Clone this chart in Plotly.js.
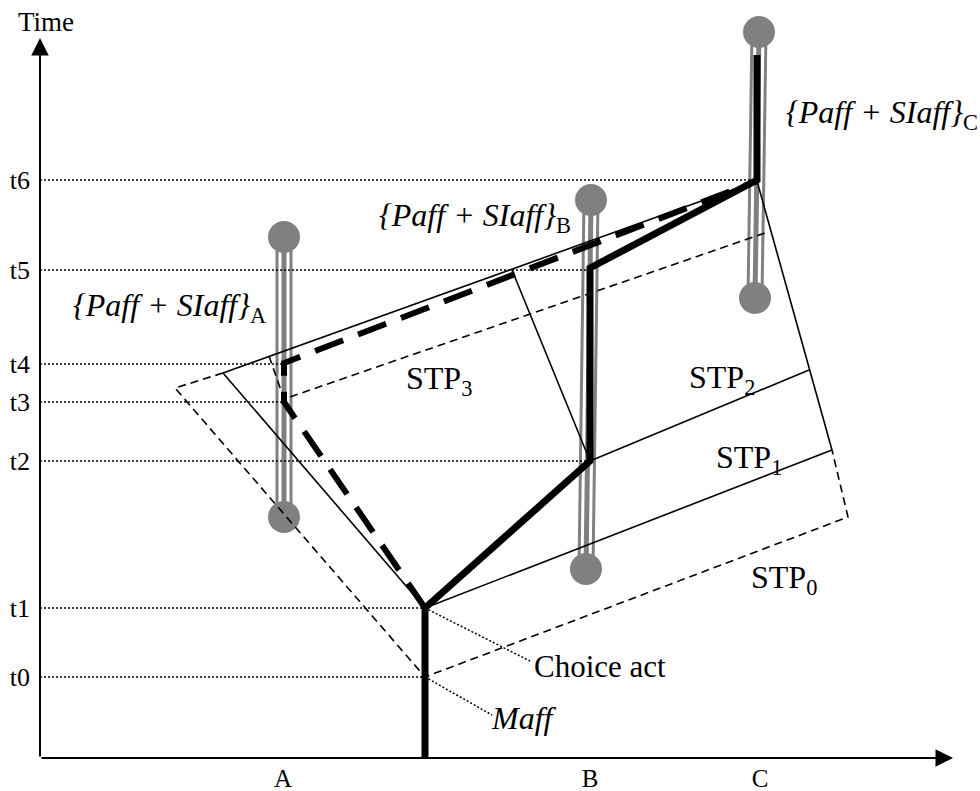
<!DOCTYPE html>
<html><head><meta charset="utf-8">
<script src="https://cdn.plot.ly/plotly-3.0.1.min.js"></script>
<style>html,body{margin:0;padding:0;background:#fff}</style>
</head><body><div id="chart" style="width:980px;height:791px"></div>
<script>
// Time levels (vertical positions) and option positions (horizontal)
const timeLabels = ['t0','t1','t2','t3','t4','t5','t6'];
const timeVals   = [677, 608, 461, 402, 364, 270, 180];
const guideEndX  = [425, 425, 590, 284, 284, 590, 757];
const optionLabels = ['A','B','C'];
const optionVals   = [283, 590, 760];

// Chosen path (thick solid)
const pathX = [425, 425, 590, 590, 757, 757];
const pathY = [758, 608, 461, 268, 180, 55];
// Alternative path (thick dashed)
const altX = [425, 284, 284, 757];
const altY = [608, 402, 363, 181];

// STP boundaries (thin solid)
const stpTopX = [223, 757];       const stpTopY = [373, 181];
const stpLeftX = [223, 425];      const stpLeftY = [373, 608];
const stp3RightX = [512, 590];    const stp3RightY = [270, 461];
const stp2X = [590, 809];         const stp2Y = [461, 370];
const stp1X = [425, 832];         const stp1Y = [608, 450];
const stpRightX = [757, 832];     const stpRightY = [181, 450];
// STP0 (thin dashed)
const stp0X = [223, 175, 425, 848, 832];
const stp0Y = [373, 388, 677, 517, 450];
const innerX = [269, 284, 765];
const innerY = [356, 399, 233];

// Leader lines (dotted)
const choiceLeadX = [425, 530]; const choiceLeadY = [608, 661];
const maffLeadX = [425, 492];   const maffLeadY = [677, 715];

// Affect rods: top and bottom circle centres
const rodTopX = [284, 591, 759];  const rodTopY = [237, 200, 32];
const rodBotX = [284, 586, 755];  const rodBotY = [517, 569, 298];

// Axis arrows: origin and tips
const axisOrigin = [40, 758];
const yAxisTip = [40, 38];
const xAxisTip = [953, 758];

const traces = [];
function line(xs, ys, color, width, dash) {
  traces.push({type:'scatter', mode:'lines', x:xs, y:ys, hoverinfo:'skip', cliponaxis:false,
    line:{color:color, width:width, dash:dash||'solid'}, showlegend:false});
}
// rods
for (let i = 0; i < rodTopX.length; i++) {
  const xs = [rodTopX[i], rodBotX[i]], ys = [rodTopY[i], rodBotY[i]];
  line(xs, ys, '#808080', 17);
  line(xs, ys, '#ffffff', 11);
  line(xs, ys, '#808080', 5);
}
traces.push({type:'scatter', mode:'markers', x:rodTopX.concat(rodBotX), y:rodTopY.concat(rodBotY),
  marker:{size:32, color:'#808080'}, hoverinfo:'skip', showlegend:false, cliponaxis:false});

// guide lines
for (let i = 0; i < timeVals.length; i++) {
  line([axisOrigin[0], guideEndX[i]], [timeVals[i], timeVals[i]], '#000', 1.5, '2px,2px');
}
line(choiceLeadX, choiceLeadY, '#000', 1.5, '2px,2px');
line(maffLeadX, maffLeadY, '#000', 1.5, '2px,2px');

// thin STP lines
line(stpTopX, stpTopY, '#000', 1.6);
line(stpLeftX, stpLeftY, '#000', 1.6);
line(stp3RightX, stp3RightY, '#000', 1.6);
line(stp2X, stp2Y, '#000', 1.6);
line(stp1X, stp1Y, '#000', 1.6);
line(stpRightX, stpRightY, '#000', 1.6);
line(stp0X, stp0Y, '#000', 1.6, '8px,5px');
line(innerX, innerY, '#000', 1.6, '8px,5px');

// thick paths
line(altX, altY, '#000', 6, '30px,16px');
line(pathX, pathY, '#000', 7);

const serif = 'Liberation Serif, Times New Roman, serif';
function lab(text, x, y, size, anchor) {
  return {text:text, x:x, y:y, xref:'x', yref:'y', showarrow:false,
    xanchor:anchor||'left', yanchor:'middle', font:{family:serif, size:size, color:'#000'}};
}
function axisArrow(tip) {
  return {x:tip[0], y:tip[1], ax:axisOrigin[0], ay:axisOrigin[1], xref:'x', yref:'y',
    axref:'x', ayref:'y', text:'', showarrow:true, arrowhead:2, arrowsize:1.75,
    arrowwidth:2, arrowcolor:'#000', standoff:0, startstandoff:0};
}
const annotations = [
  axisArrow(yAxisTip),
  axisArrow(xAxisTip),
  lab('Time', 46, 22, 27, 'center'),
  lab('<i>{Paff + SIaff}</i><sub>A</sub>', 71, 307, 32),
  lab('<i>{Paff + SIaff}</i><sub>B</sub>', 377, 217, 32),
  lab('<i>{Paff + SIaff}</i><sub>C</sub>', 784, 114, 32),
  lab('STP<sub>3</sub>', 404, 380, 32),
  lab('STP<sub>2</sub>', 687, 379, 32),
  lab('STP<sub>1</sub>', 714, 459, 32),
  lab('STP<sub>0</sub>', 749, 579, 32),
  lab('Choice act', 532, 666, 31),
  lab('<i>Maff</i>', 489, 718, 32)
];

const layout = {
  width:980, height:791, margin:{l:40, r:0, t:0, b:33},
  paper_bgcolor:'#fff', plot_bgcolor:'rgba(0,0,0,0)', showlegend:false,
  xaxis:{range:[40,980], showgrid:false, zeroline:false, showline:false, ticks:'',
    tickvals:optionVals, ticktext:optionLabels, ticklabelstandoff:3, automargin:false,
    tickfont:{family:serif, size:25, color:'#000'}},
  yaxis:{range:[758,0], showgrid:false, zeroline:false, showline:false, ticks:'',
    tickvals:timeVals, ticktext:timeLabels, ticklabelstandoff:9, automargin:false,
    tickfont:{family:serif, size:26, color:'#000'}},
  annotations:annotations
};
Plotly.newPlot('chart', traces, layout, {staticPlot:true, displayModeBar:false});
</script></body></html>
